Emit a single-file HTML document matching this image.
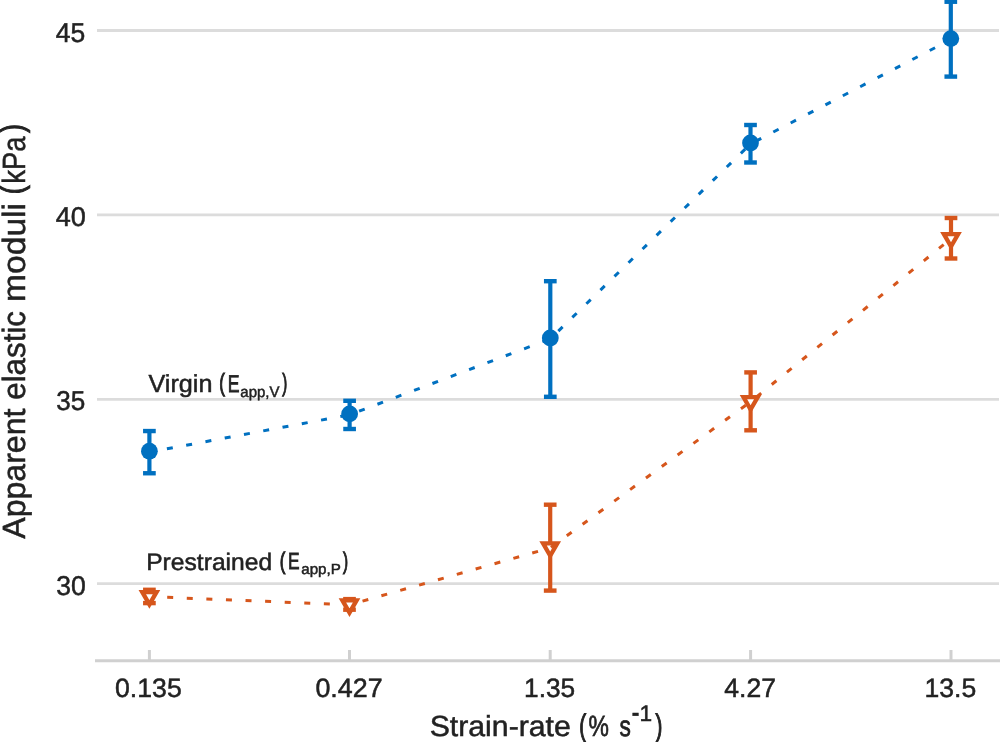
<!DOCTYPE html><html><head><meta charset="utf-8"><style>html,body{margin:0;padding:0;background:#fff;width:1000px;height:742px;overflow:hidden}svg{display:block;will-change:transform}text{font-family:"Liberation Sans",sans-serif;text-rendering:geometricPrecision;fill:#222222;stroke:#222222;stroke-width:0.50px}</style></head><body>
<svg width="1000" height="742" viewBox="0 0 1000 742">
<line x1="97" y1="30.50" x2="999" y2="30.50" stroke="#DCDCDC" stroke-width="2.8"/>
<line x1="97" y1="214.80" x2="999" y2="214.80" stroke="#DCDCDC" stroke-width="2.8"/>
<line x1="97" y1="399.40" x2="999" y2="399.40" stroke="#DCDCDC" stroke-width="2.8"/>
<line x1="97" y1="583.60" x2="999" y2="583.60" stroke="#DCDCDC" stroke-width="2.8"/>
<line x1="95" y1="660.8" x2="1000" y2="660.8" stroke="#D0D0D0" stroke-width="3"/>
<line x1="149.40" y1="650" x2="149.40" y2="660" stroke="#D0D0D0" stroke-width="3"/>
<line x1="349.50" y1="650" x2="349.50" y2="660" stroke="#D0D0D0" stroke-width="3"/>
<line x1="550.20" y1="650" x2="550.20" y2="660" stroke="#D0D0D0" stroke-width="3"/>
<line x1="750.60" y1="650" x2="750.60" y2="660" stroke="#D0D0D0" stroke-width="3"/>
<line x1="951.00" y1="650" x2="951.00" y2="660" stroke="#D0D0D0" stroke-width="3"/>
<text transform="matrix(0.9744 0 0 1.0000 55.76 41.50)" font-size="27.20">45</text>
<text transform="matrix(0.9949 0 0 1.0000 55.75 225.90)" font-size="27.20">40</text>
<text transform="matrix(0.9600 0 0 1.0000 56.18 410.30)" font-size="27.20">35</text>
<text transform="matrix(0.9774 0 0 1.0000 56.17 594.70)" font-size="27.20">30</text>
<text transform="matrix(1.0069 0 0 1.0000 115.04 697.00)" font-size="26.47">0.135</text>
<text transform="matrix(1.0140 0 0 1.0000 315.44 697.00)" font-size="26.47">0.427</text>
<text transform="matrix(0.9918 0 0 1.0000 524.06 697.00)" font-size="26.47">1.35</text>
<text transform="matrix(1.0030 0 0 1.0000 724.35 697.00)" font-size="26.47">4.27</text>
<text transform="matrix(1.0041 0 0 1.0000 924.44 697.00)" font-size="26.47">13.5</text>
<text transform="matrix(1.0253 0 0 1.0000 148.46 392.00)" font-size="24.58">Virgin</text>
<text transform="matrix(0.6897 0 0 1.0151 219.34 391.27)" font-size="24.58" style="stroke-width:1.10px">(</text>
<text transform="matrix(0.7273 0 0 1.0000 227.73 392.00)" font-size="24.29" style="stroke-width:0.80px">E</text>
<text transform="matrix(0.9811 0 0 1.0000 240.31 397.00)" font-size="15.27">app,V</text>
<text transform="matrix(0.6069 0 0 1.0151 282.15 391.27)" font-size="24.58" style="stroke-width:1.10px">)</text>
<text transform="matrix(1.0393 0 0 1.0000 146.18 569.60)" font-size="23.71">Prestrained</text>
<text transform="matrix(0.7071 0 0 1.0066 279.87 568.52)" font-size="23.71" style="stroke-width:1.10px">(</text>
<text transform="matrix(0.7462 0 0 1.0000 287.99 569.40)" font-size="23.27" style="stroke-width:0.80px">E</text>
<text transform="matrix(1.0320 0 0 1.0000 301.24 574.30)" font-size="14.69">app,P</text>
<text transform="matrix(0.6429 0 0 1.0066 343.06 568.52)" font-size="23.71" style="stroke-width:1.10px">)</text>
<text transform="matrix(1.0451 0 0 1.0000 429.65 735.90)" font-size="28.95">Strain-rate</text>
<text transform="matrix(0.7059 0 0 1.0523 579.34 736.42)" font-size="29.24" style="stroke-width:1.10px">(</text>
<text transform="matrix(0.7837 0 0 1.0000 588.61 735.90)" font-size="29.24" style="stroke-width:0.70px">%</text>
<text transform="matrix(0.7849 0 0 1.0000 619.61 735.90)" font-size="28.95" style="stroke-width:0.70px">s</text>
<text transform="matrix(1.0167 0 0 1.4667 631.84 723.47)" font-size="22.40">-</text>
<text transform="matrix(1.0146 0 0 1.0000 639.38 720.90)" font-size="22.40">1</text>
<text transform="matrix(0.7059 0 0 1.0523 655.38 736.42)" font-size="29.24" style="stroke-width:1.10px">)</text>
<text transform="matrix(0 -0.9981 1.0000 0 24.90 538.75)" font-size="32.15">Apparent</text>
<text transform="matrix(0 -0.9743 1.0000 0 24.90 399.77)" font-size="32.15">elastic</text>
<text transform="matrix(0 -1.0451 1.0000 0 24.90 301.93)" font-size="32.15">moduli</text>
<text transform="matrix(0 -0.8216 1.0164 0 23.09 194.24)" font-size="32.15" style="stroke-width:1.10px">(</text>
<text transform="matrix(0 -0.8521 1.0000 0 24.90 183.70)" font-size="32.15">kPa</text>
<text transform="matrix(0 -0.8108 1.0164 0 23.09 132.70)" font-size="32.15" style="stroke-width:1.10px">)</text>
<path d="M149.40,452.10 L349.60,414.80 L550.30,338.90 L750.50,143.90 L950.80,39.50" fill="none" stroke="#0070C0" stroke-width="3" stroke-dasharray="6 13.6" stroke-dashoffset="1.8"/>
<path d="M149.40,596.60 L349.50,604.80 L550.20,547.90 L750.60,401.70 L951.00,238.70" fill="none" stroke="#D6561C" stroke-width="3" stroke-dasharray="6 13.6" stroke-dashoffset="1.8"/>
<line x1="149.40" y1="431.05" x2="149.40" y2="473.25" stroke="#0070C0" stroke-width="4.2"/><line x1="143.05" y1="431.05" x2="155.75" y2="431.05" stroke="#0070C0" stroke-width="4.4"/><line x1="143.05" y1="473.25" x2="155.75" y2="473.25" stroke="#0070C0" stroke-width="4.4"/>
<line x1="349.60" y1="400.80" x2="349.60" y2="429.00" stroke="#0070C0" stroke-width="4.2"/><line x1="343.25" y1="400.80" x2="355.95" y2="400.80" stroke="#0070C0" stroke-width="4.4"/><line x1="343.25" y1="429.00" x2="355.95" y2="429.00" stroke="#0070C0" stroke-width="4.4"/>
<line x1="550.30" y1="281.20" x2="550.30" y2="396.80" stroke="#0070C0" stroke-width="4.2"/><line x1="543.95" y1="281.20" x2="556.65" y2="281.20" stroke="#0070C0" stroke-width="4.4"/><line x1="543.95" y1="396.80" x2="556.65" y2="396.80" stroke="#0070C0" stroke-width="4.4"/>
<line x1="750.50" y1="125.00" x2="750.50" y2="162.50" stroke="#0070C0" stroke-width="4.2"/><line x1="744.15" y1="125.00" x2="756.85" y2="125.00" stroke="#0070C0" stroke-width="4.4"/><line x1="744.15" y1="162.50" x2="756.85" y2="162.50" stroke="#0070C0" stroke-width="4.4"/>
<line x1="950.80" y1="1.75" x2="950.80" y2="76.60" stroke="#0070C0" stroke-width="4.2"/><line x1="944.45" y1="1.75" x2="957.15" y2="1.75" stroke="#0070C0" stroke-width="4.4"/><line x1="944.45" y1="76.60" x2="957.15" y2="76.60" stroke="#0070C0" stroke-width="4.4"/>
<circle cx="149.40" cy="451.20" r="8.4" fill="#0070C0"/>
<circle cx="349.60" cy="413.90" r="8.4" fill="#0070C0"/>
<circle cx="550.30" cy="338.00" r="8.4" fill="#0070C0"/>
<circle cx="750.50" cy="143.00" r="8.4" fill="#0070C0"/>
<circle cx="950.80" cy="38.60" r="8.4" fill="#0070C0"/>
<line x1="149.40" y1="589.80" x2="149.40" y2="603.10" stroke="#D6561C" stroke-width="4.2"/><line x1="143.05" y1="589.80" x2="155.75" y2="589.80" stroke="#D6561C" stroke-width="4.4"/><line x1="143.05" y1="603.10" x2="155.75" y2="603.10" stroke="#D6561C" stroke-width="4.4"/>
<line x1="349.50" y1="599.10" x2="349.50" y2="609.70" stroke="#D6561C" stroke-width="4.2"/><line x1="343.15" y1="599.10" x2="355.85" y2="599.10" stroke="#D6561C" stroke-width="4.4"/><line x1="343.15" y1="609.70" x2="355.85" y2="609.70" stroke="#D6561C" stroke-width="4.4"/>
<line x1="550.20" y1="504.70" x2="550.20" y2="590.60" stroke="#D6561C" stroke-width="4.2"/><line x1="543.85" y1="504.70" x2="556.55" y2="504.70" stroke="#D6561C" stroke-width="4.4"/><line x1="543.85" y1="590.60" x2="556.55" y2="590.60" stroke="#D6561C" stroke-width="4.4"/>
<line x1="750.60" y1="372.40" x2="750.60" y2="430.30" stroke="#D6561C" stroke-width="4.2"/><line x1="744.25" y1="372.40" x2="756.95" y2="372.40" stroke="#D6561C" stroke-width="4.4"/><line x1="744.25" y1="430.30" x2="756.95" y2="430.30" stroke="#D6561C" stroke-width="4.4"/>
<line x1="951.00" y1="218.00" x2="951.00" y2="258.50" stroke="#D6561C" stroke-width="4.2"/><line x1="944.65" y1="218.00" x2="957.35" y2="218.00" stroke="#D6561C" stroke-width="4.4"/><line x1="944.65" y1="258.50" x2="957.35" y2="258.50" stroke="#D6561C" stroke-width="4.4"/>
<path d="M142.27,592.09 L156.53,592.09 L149.40,604.43 Z" fill="#fff" stroke="#D6561C" stroke-width="4.3" stroke-linejoin="miter"/>
<path d="M342.37,600.29 L356.63,600.29 L349.50,612.63 Z" fill="#fff" stroke="#D6561C" stroke-width="4.3" stroke-linejoin="miter"/>
<path d="M543.07,543.39 L557.33,543.39 L550.20,555.73 Z" fill="#fff" stroke="#D6561C" stroke-width="4.3" stroke-linejoin="miter"/>
<path d="M743.47,397.19 L757.73,397.19 L750.60,409.53 Z" fill="#fff" stroke="#D6561C" stroke-width="4.3" stroke-linejoin="miter"/>
<path d="M943.87,234.19 L958.13,234.19 L951.00,246.53 Z" fill="#fff" stroke="#D6561C" stroke-width="4.3" stroke-linejoin="miter"/>
<line x1="550.93" y1="547.37" x2="555.77" y2="543.83" stroke="#D6561C" stroke-width="3"/>
</svg></body></html>
